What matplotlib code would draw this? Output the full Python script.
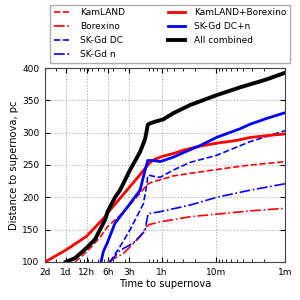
import matplotlib
matplotlib.use("Agg")
import matplotlib.pyplot as plt
from matplotlib.ticker import FixedLocator, NullFormatter, LogLocator

# time to supernova in minutes, distance in pc
kl_t = [1065, 720, 464, 360, 239, 191, 123, 98.6, 90, 75, 63, 41, 23.4, 9.67, 3.2, 1]
kl_d = [100, 116, 138, 155, 172, 183, 206, 219, 222, 225, 227, 233, 237, 243, 250, 255]

bx_t = [360, 214, 123, 98.6, 90, 63, 23.4, 9.67, 3.2, 1]
bx_d = [100, 113, 139, 155, 158, 162, 170, 174, 179, 183]

skdc_t = [333, 239, 172, 137, 110, 98, 95, 90, 75, 63, 41, 23.4, 9.67, 3.2, 1]
skdc_d = [100, 123.7, 149.5, 170, 190, 220, 234, 234, 232, 231, 242, 254, 265, 286, 303]

skn_t = [333, 239, 155, 123, 104, 98, 93.5, 90, 63, 23.4, 9.67, 3.2, 1]
skn_d = [100, 118, 129, 140, 148, 165, 175, 175, 177.8, 188, 200, 211, 221]

klbx_t = [2880, 1440, 720, 393, 360, 180, 123, 90, 75, 60, 40, 29, 17, 10, 5, 3.2, 1.8, 1]
klbx_d = [100, 118.5, 140, 170, 176, 214, 235, 253, 259, 263, 268, 273, 279, 283.5, 288, 292.5, 295.5, 298]

sk_t = [449, 416, 360, 282, 239, 172, 123, 104, 95, 90, 75, 63, 60, 41, 29.3, 16.8, 9.67, 4.46, 3.2, 1.84, 1]
sk_d = [100, 116, 131, 160, 170, 190, 211, 242, 257, 257, 256.5, 255.5, 256, 262, 269, 280, 292.7, 306, 313, 322, 330.8]

all_t = [1440, 1065, 720, 548, 464, 393, 360, 282, 239, 172, 123, 104, 95, 90, 75, 57, 41, 23.4, 9.7, 4.46, 1.84, 1]
all_d = [100, 106, 122, 135, 150, 165, 178, 200, 211, 242, 270, 290, 312, 314, 317, 320.5, 330, 342.7, 358, 370, 382.4, 392.6]

tick_vals = [2880, 1440, 720, 360, 180, 60, 10, 1]
tick_labels = ["2d", "1d", "12h", "6h", "3h", "1h", "10m", "1m"]

fig = plt.figure(figsize=(3, 3), dpi=100)
ax = fig.add_axes([0.15, 0.1267, 0.80, 0.6466])

ax.plot(kl_t, kl_d, color="red", ls="--", lw=1.2, label="KamLAND")
ax.plot(bx_t, bx_d, color="red", ls="-.", lw=1.2, label="Borexino")
ax.plot(skdc_t, skdc_d, color="blue", ls="--", lw=1.2, label="SK-Gd DC")
ax.plot(skn_t, skn_d, color="blue", ls="-.", lw=1.2, label="SK-Gd n")
ax.plot(klbx_t, klbx_d, color="red", ls="-", lw=2.0, label="KamLAND+Borexino")
ax.plot(sk_t, sk_d, color="blue", ls="-", lw=2.0, label="SK-Gd DC+n")
ax.plot(all_t, all_d, color="black", ls="-", lw=2.8, label="All combined")

ax.set_xscale("log")
ax.set_xlim(2880, 1)
ax.set_ylim(100, 400)
ax.xaxis.set_major_locator(FixedLocator(tick_vals))
ax.set_xticklabels(tick_labels)
ax.xaxis.set_minor_locator(LogLocator(base=10, subs=range(2, 10)))
ax.xaxis.set_minor_formatter(NullFormatter())
ax.set_yticks([100, 150, 200, 250, 300, 350, 400])
ax.tick_params(axis="both", which="both", direction="in", labelsize=6.5, top=True, right=True)
ax.tick_params(which="major", length=3.5, pad=4)
ax.tick_params(which="minor", length=2)
ax.grid(True, which="major", ls=":", color="#aaaaaa", lw=0.8)
for s in ax.spines.values():
    s.set_color("#444444")
    s.set_linewidth(0.8)

ax.set_xlabel("Time to supernova", fontsize=7.1, labelpad=2)
ax.set_ylabel("Distance to supernova, pc", fontsize=7.1, labelpad=2)

fig.legend(loc="lower left", bbox_to_anchor=(50 / 300, 237 / 300, 240 / 300, 58 / 300),
           mode="expand", ncol=2,
           fontsize=6.5, frameon=True, fancybox=False, edgecolor="#999999",
           handlelength=1.9, handletextpad=1.0, columnspacing=2.0,
           labelspacing=0.55, borderpad=0.4, borderaxespad=0)

fig.savefig("out.png", dpi=100)
